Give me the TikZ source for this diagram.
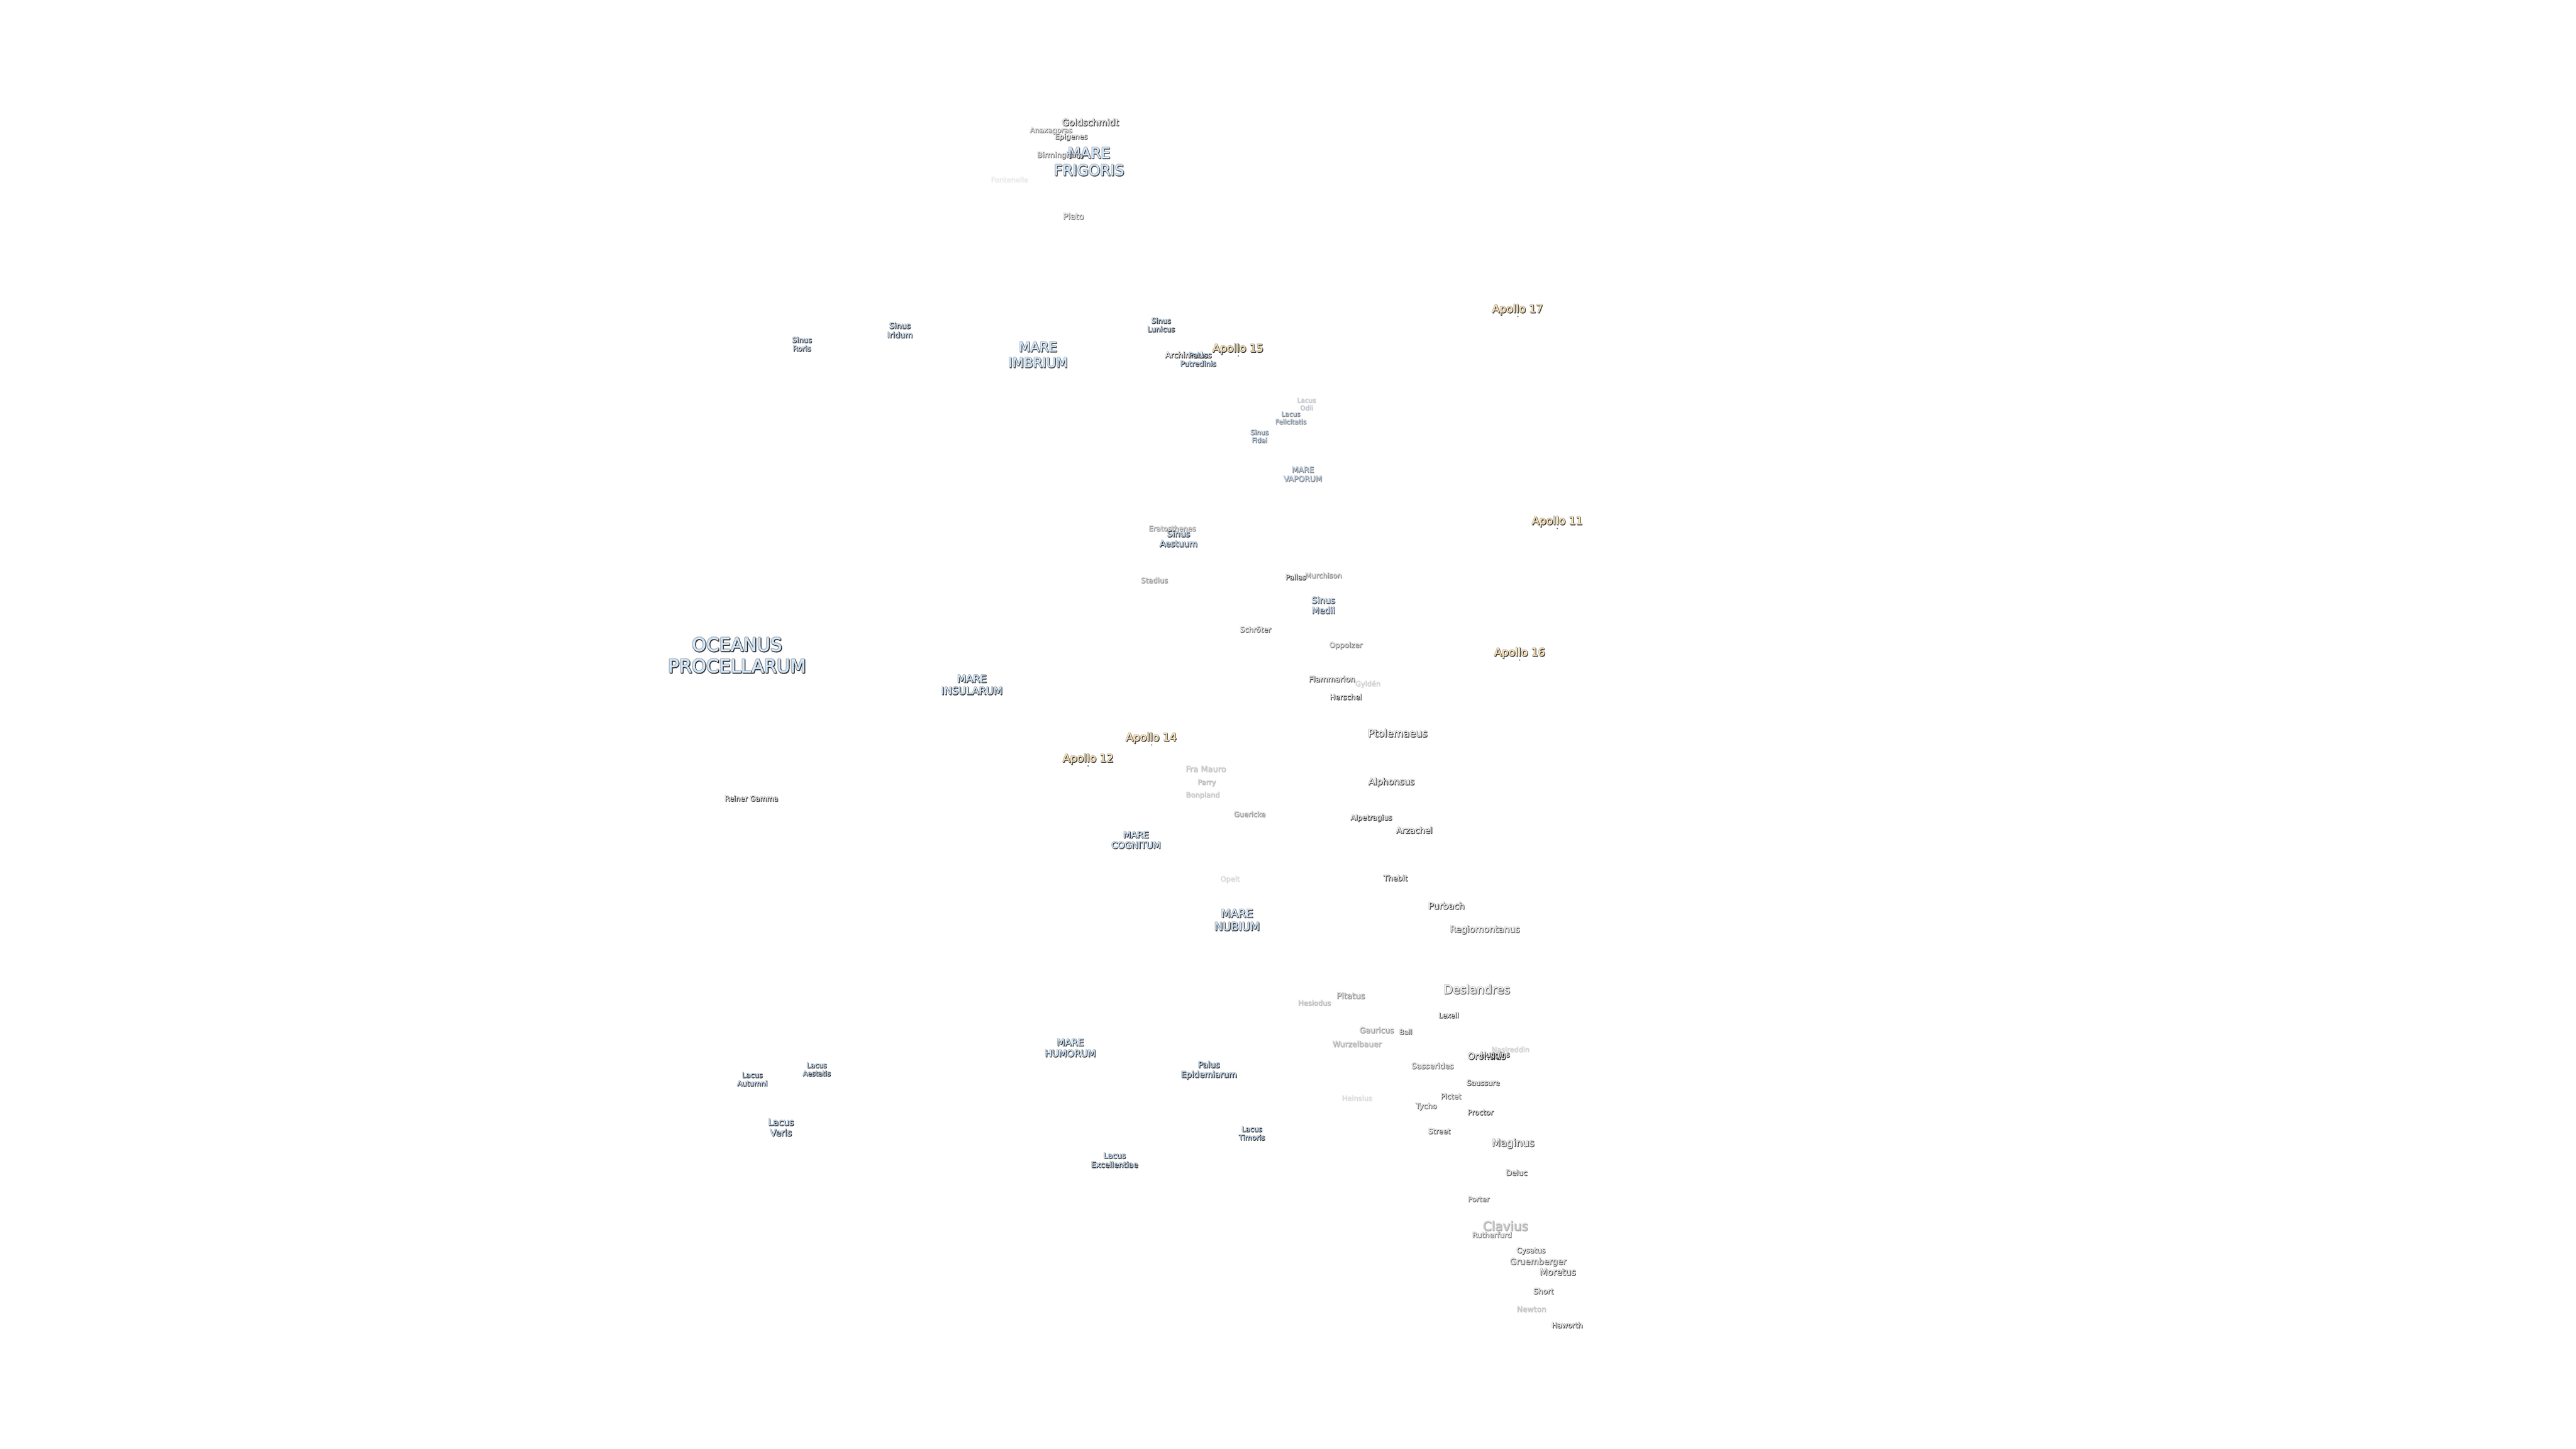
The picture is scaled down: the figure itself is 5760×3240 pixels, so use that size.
\documentclass[tikz,border=0pt]{standalone}
\usepackage{fontspec}
\setmainfont{DejaVu Sans}
\newfontfamily\haloface[FakeBold=10]{DejaVu Sans}
\newfontfamily\edgeface[FakeBold=6]{DejaVu Sans}
\newfontfamily\fillface[FakeBold=1.5]{DejaVu Sans}

\definecolor{marefill}{HTML}{CFE6FF}
\definecolor{sinusfill}{HTML}{C8E0F8}
\definecolor{apollofill}{HTML}{FFE3B3}
\definecolor{craterfill}{HTML}{F4F4F4}

\tikzset{
    labelbase/.style={inner sep=0pt, outer sep=0pt, align=center},
    marelabel/.style={labelbase, text=marefill},
    sinuslabel/.style={labelbase, text=sinusfill},
    apollolabel/.style={labelbase, text=apollofill},
    craterlabel/.style={labelbase, text=craterfill},
    sitemark/.style={circle, fill=black!70, inner sep=0pt, minimum size=0.3pt}
}

% style, name, position, size, opacity, text
\newcommand{\moonlabel}[6]{%
    \pgfmathsetmacro{\moonlead}{#4*1.17}%
    \pgfmathsetmacro{\moonhalo}{#5*0.3}%
    \pgfmathsetmacro{\moonedge}{#5*0.6}%
    \pgfmathsetmacro{\moontop}{min(1,#5*1.5)}%
    \node[labelbase, text=black, text opacity=\moonhalo, font={\haloface\fontsize{#4}{\moonlead}\selectfont}] (#2-halo) at (#3) {#6};
    \node[labelbase, text=black, text opacity=\moonedge, xshift=0.12pt, yshift=-0.16pt, font={\edgeface\fontsize{#4}{\moonlead}\selectfont}] (#2-edge) at (#3) {#6};
    \node[#1, text opacity=\moontop, font={\fillface\fontsize{#4}{\moonlead}\selectfont}] (#2) at (#3) {#6};
}

\begin{document}
\begin{tikzpicture}[x=0.1pt, y=-0.1pt, line join=round]
    \useasboundingbox (0,0) rectangle (5760,3240);

    % Oceanus and maria
    \moonlabel{marelabel}{oceanus}{1648,1465}{4.1}{1}{OCEANUS\\PROCELLARUM}
    \moonlabel{marelabel}{frigoris}{2435,361}{3.3}{0.85}{MARE\\FRIGORIS}
    \moonlabel{marelabel}{imbrium}{2321,793}{3.0}{0.85}{MARE\\IMBRIUM}
    \moonlabel{marelabel}{insularum}{2173,1531}{2.3}{1}{MARE\\INSULARUM}
    \moonlabel{marelabel}{cognitum}{2540,1878}{2.0}{1}{MARE\\COGNITUM}
    \moonlabel{marelabel}{nubium}{2766,2057}{2.5}{1}{MARE\\NUBIUM}
    \moonlabel{marelabel}{humorum}{2393,2343}{2.1}{1}{MARE\\HUMORUM}
    \moonlabel{marelabel}{vaporum}{2913,1060}{1.73}{0.5}{MARE\\VAPORUM}

    % Sinus, lacus, palus
    \moonlabel{sinuslabel}{roris}{1793,769}{1.63}{1}{Sinus\\Roris}
    \moonlabel{sinuslabel}{iridum}{2012,738}{1.76}{1}{Sinus\\Iridum}
    \moonlabel{sinuslabel}{lunicus}{2596,726}{1.62}{1}{Sinus\\Lunicus}
    \moonlabel{sinuslabel}{fidei}{2816,975}{1.5}{0.65}{Sinus\\Fidei}
    \moonlabel{sinuslabel}{aestuum}{2635,1204}{1.9}{1}{Sinus\\Aestuum}
    \moonlabel{sinuslabel}{medii}{2959,1353}{1.95}{0.8}{Sinus\\Medii}
    \moonlabel{sinuslabel}{odii}{2921,903}{1.46}{0.18}{Lacus\\Odii}
    \moonlabel{sinuslabel}{felicitatis}{2886,934}{1.47}{0.5}{Lacus\\Felicitatis}
    \moonlabel{sinuslabel}{autumni}{1682,2413}{1.6}{1}{Lacus\\Autumni}
    \moonlabel{sinuslabel}{aestatis}{1826,2391}{1.56}{1}{Lacus\\Aestatis}
    \moonlabel{sinuslabel}{veris}{1746,2521}{2.0}{1}{Lacus\\Veris}
    \moonlabel{sinuslabel}{excellentiae}{2492,2594}{1.73}{1}{Lacus\\Excellentiae}
    \moonlabel{sinuslabel}{timoris}{2799,2534}{1.6}{1}{Lacus\\Timoris}
    \moonlabel{sinuslabel}{epidemiarum}{2703,2393}{1.87}{1}{Palus\\Epidemiarum}

    % Craters, north
    \moonlabel{craterlabel}{goldschmidt}{2438,273}{2.02}{0.95}{Goldschmidt}
    \moonlabel{craterlabel}{anaxagoras}{2350,292}{1.6}{0.55}{Anaxagoras}
    \moonlabel{craterlabel}{epigenes}{2395,306}{1.6}{0.8}{Epigenes}
    \moonlabel{craterlabel}{birmingham}{2370,347}{1.68}{0.55}{Birmingham}
    \moonlabel{craterlabel}{fontenelle}{2257,401}{1.6}{0.06}{Fontenelle}
    \moonlabel{craterlabel}{plato}{2400,483}{1.88}{0.6}{Plato}
    \moonlabel{craterlabel}{archimedes}{2657,793}{1.76}{0.95}{Archimedes}
    \moonlabel{sinuslabel}{putredinis}{2679,803}{1.62}{0.95}{Palus\\Putredinis}

    % Craters, middle
    \moonlabel{craterlabel}{eratosthenes}{2621,1181}{1.6}{0.5}{Eratosthenes}
    \moonlabel{craterlabel}{stadius}{2581,1297}{1.63}{0.4}{Stadius}
    \moonlabel{craterlabel}{pallas}{2897,1290}{1.6}{1}{Pallas}
    \moonlabel{craterlabel}{murchison}{2959,1286}{1.6}{0.5}{Murchison}
    \moonlabel{craterlabel}{schroter}{2807,1407}{1.64}{0.7}{Schröter}
    \moonlabel{craterlabel}{oppolzer}{3009,1443}{1.64}{0.5}{Oppolzer}
    \moonlabel{craterlabel}{flammarion}{2978,1518}{1.74}{0.9}{Flammarion}
    \moonlabel{craterlabel}{gylden}{3058,1529}{1.6}{0.15}{Gyldén}
    \moonlabel{craterlabel}{herschel}{3009,1558}{1.63}{0.9}{Herschel}
    \moonlabel{craterlabel}{ptolemaeus}{3125,1639}{2.27}{0.9}{Ptolemaeus}
    \moonlabel{craterlabel}{framauro}{2696,1719}{1.82}{0.2}{Fra Mauro}
    \moonlabel{craterlabel}{parry}{2698,1750}{1.58}{0.25}{Parry}
    \moonlabel{craterlabel}{bonpland}{2689,1778}{1.6}{0.2}{Bonpland}
    \moonlabel{craterlabel}{guericke}{2794,1820}{1.6}{0.4}{Guericke}
    \moonlabel{craterlabel}{alphonsus}{3111,1749}{2.0}{0.9}{Alphonsus}
    \moonlabel{craterlabel}{alpetragius}{3066,1829}{1.63}{0.9}{Alpetragius}
    \moonlabel{craterlabel}{arzachel}{3162,1856}{1.88}{0.95}{Arzachel}
    \moonlabel{craterlabel}{opelt}{2750,1966}{1.6}{0.12}{Opelt}
    \moonlabel{craterlabel}{thebit}{3120,1963}{1.7}{0.9}{Thebit}
    \moonlabel{craterlabel}{purbach}{3234,2025}{2.0}{0.9}{Purbach}
    \moonlabel{craterlabel}{regiomontanus}{3320,2079}{2.0}{0.7}{Regiomontanus}
    \moonlabel{craterlabel}{reinergamma}{1680,1785}{1.6}{1}{Reiner Gamma}

    % Craters, south
    \moonlabel{craterlabel}{deslandres}{3302,2212}{2.66}{0.7}{Deslandres}
    \moonlabel{craterlabel}{pitatus}{3020,2226}{1.86}{0.45}{Pitatus}
    \moonlabel{craterlabel}{hesiodus}{2939,2242}{1.6}{0.25}{Hesiodus}
    \moonlabel{craterlabel}{lexell}{3239,2270}{1.57}{1}{Lexell}
    \moonlabel{craterlabel}{gauricus}{3078,2303}{1.74}{0.45}{Gauricus}
    \moonlabel{craterlabel}{ball}{3143,2307}{1.56}{0.8}{Ball}
    \moonlabel{craterlabel}{wurzelbauer}{3034,2334}{1.73}{0.3}{Wurzelbauer}
    \moonlabel{craterlabel}{nasireddin}{3377,2346}{1.58}{0.15}{Nasireddin}
    \moonlabel{craterlabel}{orontius}{3324,2361}{1.99}{1}{Orontius}
    \moonlabel{craterlabel}{huggins}{3343,2359}{1.6}{1}{Huggins}
    \moonlabel{craterlabel}{sasserides}{3203,2383}{1.75}{0.65}{Sasserides}
    \moonlabel{craterlabel}{saussure}{3316,2421}{1.62}{0.95}{Saussure}
    \moonlabel{craterlabel}{pictet}{3244,2451}{1.62}{0.8}{Pictet}
    \moonlabel{craterlabel}{heinsius}{3034,2455}{1.6}{0.12}{Heinsius}
    \moonlabel{craterlabel}{tycho}{3189,2474}{1.67}{0.6}{Tycho}
    \moonlabel{craterlabel}{proctor}{3310,2487}{1.62}{0.9}{Proctor}
    \moonlabel{craterlabel}{street}{3218,2529}{1.63}{0.7}{Street}
    \moonlabel{craterlabel}{maginus}{3383,2557}{2.28}{0.8}{Maginus}
    \moonlabel{craterlabel}{deluc}{3391,2622}{1.67}{0.9}{Deluc}
    \moonlabel{craterlabel}{porter}{3306,2681}{1.6}{0.6}{Porter}
    \moonlabel{craterlabel}{clavius}{3366,2741}{2.8}{0.3}{Clavius}
    \moonlabel{craterlabel}{rutherfurd}{3336,2761}{1.65}{0.6}{Rutherfurd}
    \moonlabel{craterlabel}{cysatus}{3423,2797}{1.62}{0.8}{Cysatus}
    \moonlabel{craterlabel}{gruemberger}{3439,2822}{1.88}{0.6}{Gruemberger}
    \moonlabel{craterlabel}{moretus}{3483,2844}{2.0}{0.85}{Moretus}
    \moonlabel{craterlabel}{short}{3451,2887}{1.68}{0.8}{Short}
    \moonlabel{craterlabel}{newton}{3424,2927}{1.73}{0.2}{Newton}
    \moonlabel{craterlabel}{haworth}{3504,2963}{1.63}{0.9}{Haworth}

    % Landing sites
    \moonlabel{apollolabel}{apolloxv}{2768,780}{2.42}{1}{Apollo 15}
    \moonlabel{apollolabel}{apolloxvii}{3393,692}{2.42}{1}{Apollo 17}
    \moonlabel{apollolabel}{apolloxi}{3482,1166}{2.42}{1}{Apollo 11}
    \moonlabel{apollolabel}{apolloxvi}{3398,1460}{2.42}{1}{Apollo 16}
    \moonlabel{apollolabel}{apolloxiv}{2574,1650}{2.42}{1}{Apollo 14}
    \moonlabel{apollolabel}{apolloxii}{2433,1697}{2.42}{1}{Apollo 12}
    \node[sitemark] (sitexv) at (2769,796) {};
    \node[sitemark] (sitexvii) at (3394,708) {};
    \node[sitemark] (sitexi) at (3482,1182) {};
    \node[sitemark] (sitexvi) at (3398,1476) {};
    \node[sitemark] (sitexiv) at (2575,1666) {};
    \node[sitemark] (sitexii) at (2433,1713) {};
\end{tikzpicture}
\end{document}
